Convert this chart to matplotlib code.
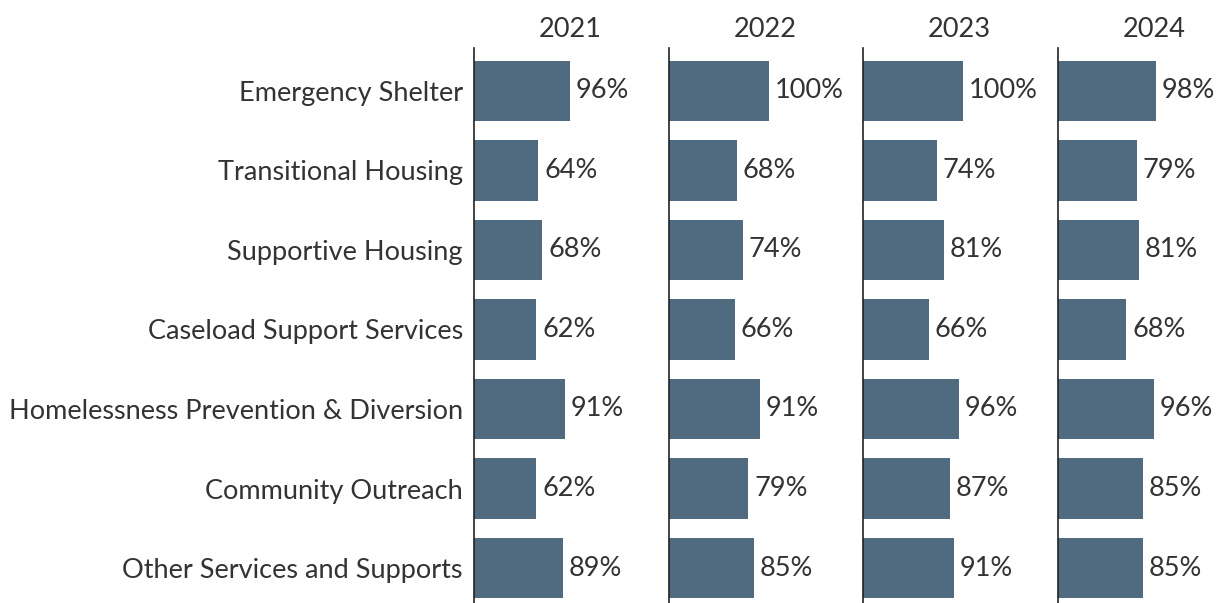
import matplotlib.pyplot as plt

plt.rcParams['font.family'] = ['Lato', 'DejaVu Sans']

categories = [
    "Emergency Shelter",
    "Transitional Housing",
    "Supportive Housing",
    "Caseload Support Services",
    "Homelessness Prevention & Diversion",
    "Community Outreach",
    "Other Services and Supports",
]
years = ["2021", "2022", "2023", "2024"]
pct_2021 = [96, 64, 68, 62, 91, 62, 89]
pct_2022 = [100, 68, 74, 66, 91, 79, 85]
pct_2023 = [100, 74, 81, 66, 96, 87, 91]
pct_2024 = [98, 79, 81, 68, 96, 85, 85]
series = [pct_2021, pct_2022, pct_2023, pct_2024]

BAR = "#506a80"
TXT = "#333333"
W, H = 1228, 603
FS = 19.5

fig = plt.figure(figsize=(W / 100, H / 100), dpi=100)

# one narrow panel per year, 1 px per percentage point
lefts = [474, 669, 863, 1058]
panel_w = 170
top, bottom = 48, 603

for i, (yr, vals, x0) in enumerate(zip(years, series, lefts)):
    ax = fig.add_axes([x0 / W, 1 - bottom / H, panel_w / W, (bottom - top) / H])
    y = range(len(categories))
    ax.barh(y, vals, height=0.76, color=BAR)
    ax.set_xlim(0, panel_w)
    ax.set_ylim(6.44, -0.54)
    for s in ["top", "right", "bottom"]:
        ax.spines[s].set_visible(False)
    ax.spines["left"].set_color("#222222")
    ax.spines["left"].set_linewidth(1.2)
    ax.set_xticks([])
    ax.set_yticks(list(y))
    ax.tick_params(axis="y", length=0, pad=8)
    if i == 0:
        ax.set_yticklabels(categories, fontsize=FS, color=TXT)
    else:
        ax.set_yticklabels([])
    for yy, v in zip(y, vals):
        ax.text(v + 6, yy, f"{v}%", va="center", ha="left", fontsize=FS, color=TXT)
    ax.text(96, -0.62, yr, ha="center", va="bottom", fontsize=FS, color=TXT,
            clip_on=False)

fig.savefig("out.png", dpi=100)
